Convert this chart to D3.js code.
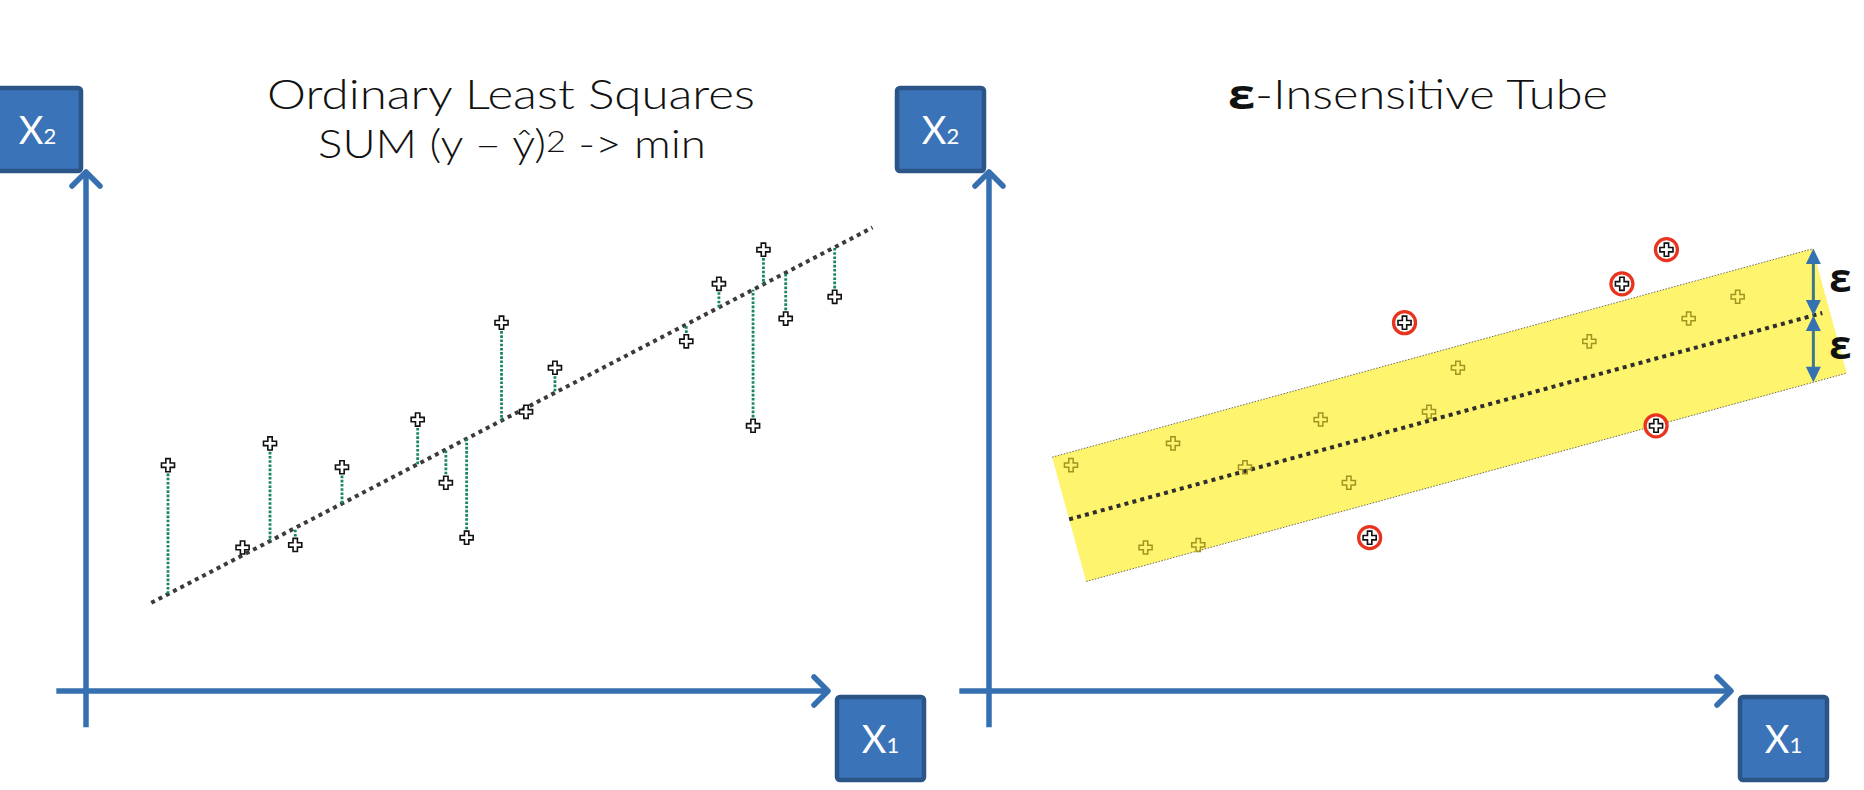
<!DOCTYPE html>
<html><head><meta charset="utf-8">
<script src="https://cdn.jsdelivr.net/npm/d3@7"></script>
<style>html,body{margin:0;padding:0;background:#fff;overflow:hidden;} svg{display:block;}</style>
</head><body>
<script>
// ---------- data ----------
const pointX = [11.05, 21.1, 24.8, 28.2, 34.5, 44.7, 48.5, 51.3, 56.0, 59.3, 63.2, 80.9, 85.3, 91.3, 89.9, 94.3, 100.9];
const pointY = [43.6, 27.7, 47.8, 28.2, 43.2, 52.4, 40.2, 29.6, 71.1, 53.9, 62.4, 67.5, 78.6, 85.2, 51.2, 71.9, 76.1];
const outsideTube = [0,0,0,0,0,0,0,1,1,0,0,0,1,1,1,0,0];
const olsLine = [10.47, 0.7453];          // intercept, slope
const olsRange = [8.8, 106];
const tubeLine = [28.9, 0.3925];          // intercept, slope
const tubeEpsilon = 12.9;
const tubeRange = [10.8, 113.3];
const epsilonArrowX = 111.1;
const axisX = [-4, 100];
const axisY = [-7, 100.2];
const titleLeft = ["Ordinary Least Squares", "SUM (y – ŷ)", "2", " -> min"];
const titleRight = ["ε", "-Insensitive Tube"];
const axisNames = [["X", "1"], ["X", "2"]];

// ---------- setup ----------
const W = 1864, H = 790;
const svg = d3.select("body").append("svg").attr("width", W).attr("height", H);
const AXIS = "#3670b0", BOXF = "#3a73b8", BOXS = "#2a5586";
const FONT = "Lato, 'Open Sans', sans-serif";
const GREEK = "'Open Sans', 'DejaVu Sans', sans-serif";

function panel(ox) {
  return {
    x: d3.scaleLinear().domain([0, 100]).range([ox, ox + 742]),
    y: d3.scaleLinear().domain([0, 100]).range([691, 173])
  };
}
const L = panel(86), R = panel(989);
const cross = d3.symbol(d3.symbolCross, 95);

function drawAxes(g, s) {
  const x0 = s.x(0), y0 = s.y(0);
  const xt = s.x(axisX[1]), yt = s.y(axisY[1]);
  g.append("line").attr("x1", s.x(axisX[0])).attr("x2", xt - 2).attr("y1", y0).attr("y2", y0)
    .attr("stroke", AXIS).attr("stroke-width", 5.5);
  g.append("line").attr("x1", x0).attr("x2", x0).attr("y1", s.y(axisY[0])).attr("y2", yt + 2)
    .attr("stroke", AXIS).attr("stroke-width", 5.5);
  g.append("path").attr("d", `M${xt - 14},${y0 - 14}L${xt},${y0}L${xt - 14},${y0 + 14}`)
    .attr("fill", "none").attr("stroke", AXIS).attr("stroke-width", 5.5)
    .attr("stroke-linecap", "round").attr("stroke-linejoin", "round");
  g.append("path").attr("d", `M${x0 - 14},${yt + 14}L${x0},${yt}L${x0 + 14},${yt + 14}`)
    .attr("fill", "none").attr("stroke", AXIS).attr("stroke-width", 5.5)
    .attr("stroke-linecap", "round").attr("stroke-linejoin", "round");
  const boxes = [
    { x: x0 + 751, y: 697, name: axisNames[0] },
    { x: x0 - 92, y: 88, name: axisNames[1] }
  ];
  boxes.forEach(b => {
    g.append("rect").attr("x", b.x).attr("y", b.y).attr("width", 87).attr("height", 83)
      .attr("rx", 3).attr("fill", BOXF).attr("stroke", BOXS).attr("stroke-width", 4.5);
    const t = g.append("text").attr("x", b.x + 43.5).attr("y", b.y + 41.5 + 14)
      .attr("text-anchor", "middle").attr("fill", "#fff")
      .style("font-family", FONT).style("font-weight", 400).style("font-size", "38px");
    t.append("tspan").text(b.name[0]);
    t.append("tspan").style("font-size", "22px").text(b.name[1]);
  });
}

// ---------- left panel ----------
const gl = svg.append("g");
drawAxes(gl, L);
const yhatL = x => olsLine[0] + olsLine[1] * x;
gl.append("line")
  .attr("x1", L.x(olsRange[0])).attr("y1", L.y(yhatL(olsRange[0])))
  .attr("x2", L.x(olsRange[1])).attr("y2", L.y(yhatL(olsRange[1])))
  .attr("stroke", "#3b3b3b").attr("stroke-width", 4).attr("stroke-dasharray", "4,4.2");
const idx = d3.range(pointX.length);
gl.selectAll("line.res").data(idx).join("line").attr("class", "res")
  .attr("x1", i => L.x(pointX[i])).attr("x2", i => L.x(pointX[i]))
  .attr("y1", i => L.y(pointY[i])).attr("y2", i => L.y(yhatL(pointX[i])))
  .attr("stroke", "#17875c").attr("stroke-width", 2.8).attr("stroke-dasharray", "2.6,1.6");
gl.selectAll("path.pt").data(idx).join("path").attr("class", "pt")
  .attr("d", cross).attr("transform", i => `translate(${L.x(pointX[i])},${L.y(pointY[i])})`)
  .attr("fill", "#fff").attr("stroke", "#111").attr("stroke-width", 1.6);

gl.append("text").attr("x", L.x(0) + 425).attr("y", 109).attr("text-anchor", "middle")
  .attr("fill", "#111").style("font-family", FONT).style("font-weight", 300).style("font-size", "42px")
  .attr("textLength", 488).attr("lengthAdjust", "spacingAndGlyphs").text(titleLeft[0]);
const t2 = gl.append("text").attr("x", L.x(0) + 426).attr("y", 158).attr("text-anchor", "middle")
  .attr("fill", "#111").style("font-family", FONT).style("font-weight", 300).style("font-size", "40px")
  .attr("textLength", 388).attr("lengthAdjust", "spacingAndGlyphs");
t2.append("tspan").text(titleLeft[1]);
t2.append("tspan").attr("dy", -6).style("font-size", "30px").text(titleLeft[2]);
t2.append("tspan").attr("dy", 6).text(titleLeft[3]);

// ---------- right panel ----------
const gr = svg.append("g");
drawAxes(gr, R);
const yhatR = x => tubeLine[0] + tubeLine[1] * x;
const p0 = [R.x(tubeRange[0]), R.y(yhatR(tubeRange[0]))];
const p1 = [R.x(tubeRange[1]), R.y(yhatR(tubeRange[1]))];
const dx = p1[0] - p0[0], dy = p1[1] - p0[1], len = Math.hypot(dx, dy);
const u = [dx / len, dy / len];
const n = [u[1], -u[0]];
const epsPx = R.y(0) - R.y(tubeEpsilon);
const hw = epsPx * Math.abs(u[0]);
const cTL = [p0[0] + n[0] * hw, p0[1] + n[1] * hw];
const cBL = [p0[0] - n[0] * hw, p0[1] - n[1] * hw];
const cTR = [p1[0] + n[0] * hw, p1[1] + n[1] * hw];
const cBR = [p1[0] - n[0] * hw, p1[1] - n[1] * hw];
gr.append("path").attr("d", d3.line()([cTL, cTR, cBR, cBL]) + "Z").attr("fill", "#fff46e");
[[cTL, cTR], [cBL, cBR]].forEach(([a, b]) => {
  gr.append("line").attr("x1", a[0]).attr("y1", a[1]).attr("x2", b[0]).attr("y2", b[1])
    .attr("stroke", "#6b6b5a").attr("stroke-width", 1).attr("stroke-dasharray", "1.5,1.5");
});
gr.append("line")
  .attr("x1", p0[0]).attr("y1", p0[1])
  .attr("x2", R.x(tubeRange[1] - 1)).attr("y2", R.y(yhatR(tubeRange[1] - 1)))
  .attr("stroke", "#2f2f2f").attr("stroke-width", 4).attr("stroke-dasharray", "4,4.2");

const inside = idx.filter(i => !outsideTube[i]);
const outside = idx.filter(i => outsideTube[i]);
gr.selectAll("path.in").data(inside).join("path").attr("class", "in")
  .attr("d", cross).attr("transform", i => `translate(${R.x(pointX[i])},${R.y(pointY[i])})`)
  .attr("fill", "none").attr("stroke", "#a39420").attr("stroke-width", 1.5);
gr.selectAll("circle.out").data(outside).join("circle").attr("class", "out")
  .attr("cx", i => R.x(pointX[i])).attr("cy", i => R.y(pointY[i])).attr("r", 11)
  .attr("fill", "#fff").attr("stroke", "#e8341f").attr("stroke-width", 3.3);
gr.selectAll("path.outp").data(outside).join("path").attr("class", "outp")
  .attr("d", cross).attr("transform", i => `translate(${R.x(pointX[i])},${R.y(pointY[i])})`)
  .attr("fill", "#fff").attr("stroke", "#111").attr("stroke-width", 1.6);

// epsilon arrows
const ax = R.x(epsilonArrowX);
const yc = R.y(yhatR(epsilonArrowX));
const yTop = R.y(yhatR(epsilonArrowX) + tubeEpsilon);
const yBot = R.y(yhatR(epsilonArrowX) - tubeEpsilon);
[[yTop, yc], [yc, yBot]].forEach(([a, b]) => {
  gr.append("line").attr("x1", ax).attr("x2", ax).attr("y1", a + 12).attr("y2", b - 12)
    .attr("stroke", "#3d7886").attr("stroke-width", 3);
  gr.append("path").attr("d", `M${ax},${a}L${ax + 7.5},${a + 15.5}L${ax - 7.5},${a + 15.5}Z`).attr("fill", "#3572b2");
  gr.append("path").attr("d", `M${ax},${b}L${ax + 7.5},${b - 15.5}L${ax - 7.5},${b - 15.5}Z`).attr("fill", "#3572b2");
  gr.append("text").attr("x", ax + 27).attr("y", (a + b) / 2 + 10).attr("text-anchor", "middle")
    .attr("fill", "#111").style("font-family", GREEK).style("font-weight", 700).style("font-size", "40px")
    .text(titleRight[0]);
});

const tr = gr.append("text").attr("x", R.x(0) + 429).attr("y", 109).attr("text-anchor", "middle")
  .attr("fill", "#111").style("font-family", FONT).style("font-weight", 300).style("font-size", "42px")
  .attr("textLength", 380).attr("lengthAdjust", "spacingAndGlyphs");
tr.append("tspan").style("font-weight", 700).style("font-family", GREEK).text(titleRight[0]);
tr.append("tspan").text(titleRight[1]);
</script>
</body></html>
